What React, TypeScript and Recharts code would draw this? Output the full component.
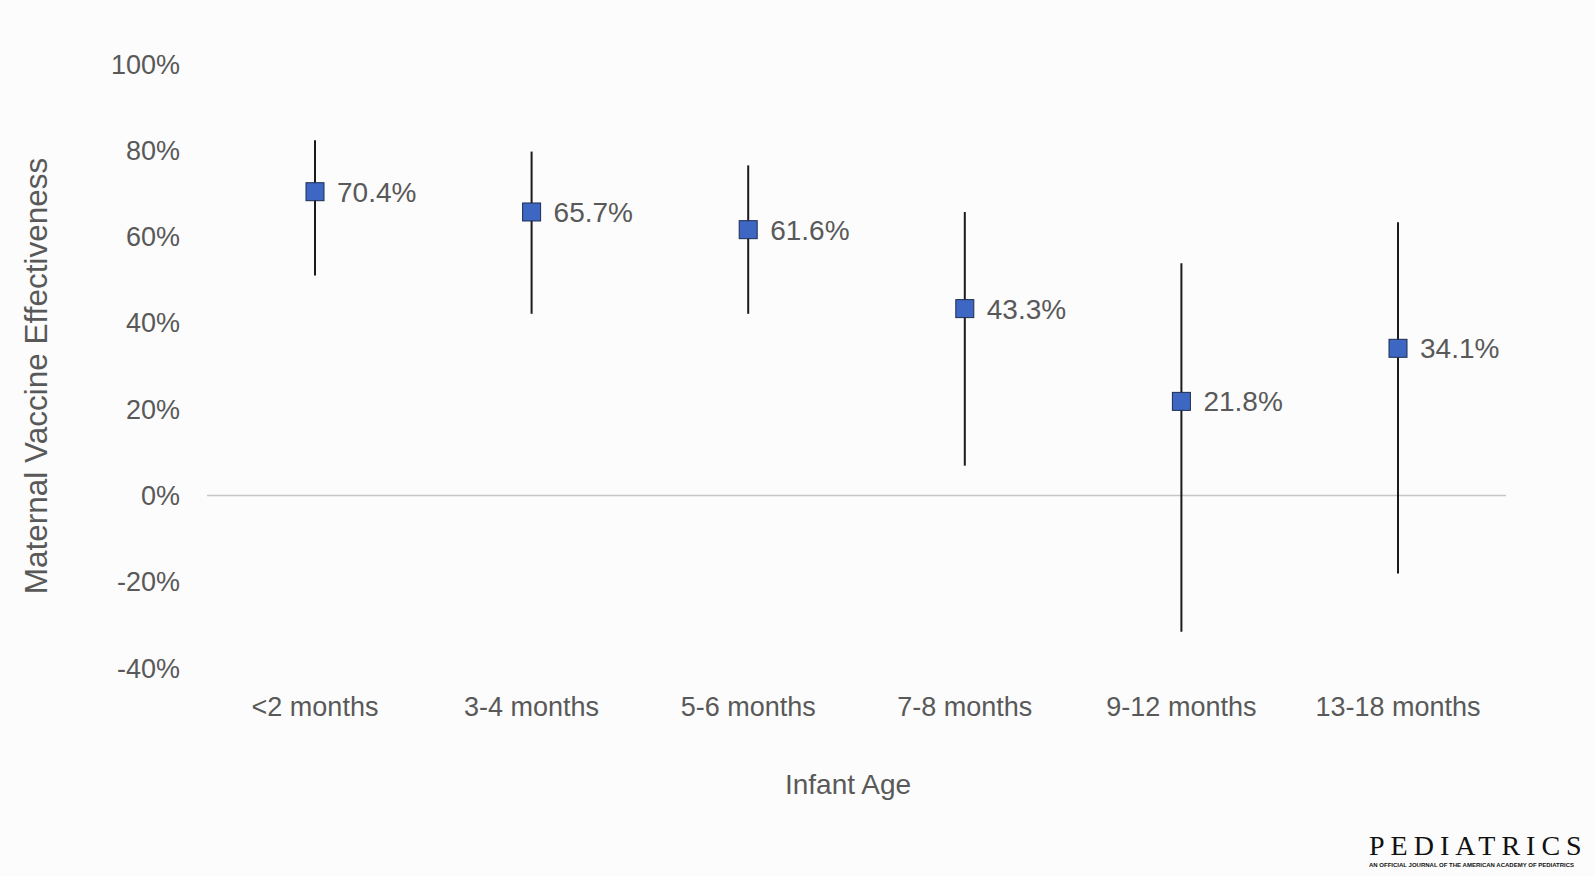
import React from 'react';
import { ComposedChart, Line, XAxis, YAxis, ErrorBar, LabelList, ReferenceLine } from 'recharts';

// values (percent)
const categories = ['<2 months', '3-4 months', '5-6 months', '7-8 months', '9-12 months', '13-18 months'];
const effectiveness = [70.4, 65.7, 61.6, 43.3, 21.8, 34.1];
const ciLower = [51.0, 42.1, 42.1, 6.9, -31.6, -18.1];
const ciUpper = [82.3, 79.7, 76.5, 65.7, 53.8, 63.3];
const yTicks = [-40, -20, 0, 20, 40, 60, 80, 100];

const FONT = '"Liberation Sans", Arial, Helvetica, sans-serif';
const TEXT_GREY = '#595959';

const data = categories.map((name, i) => ({
  name,
  ve: effectiveness[i],
  err: [effectiveness[i] - ciLower[i], ciUpper[i] - effectiveness[i]],
}));

// square marker drawn at the point the Line hands us
const SquareDot = (props: any) => {
  const { cx, cy, index } = props;
  if (cx == null || cy == null) return null;
  return (
    <rect
      key={`sq-${index}`}
      x={cx - 9}
      y={cy - 9}
      width={18}
      height={18}
      fill="#3D67C2"
      stroke="#1E2D52"
      strokeWidth={1}
    />
  );
};

export default function App() {
  return (
    <div style={{ position: 'absolute', left: 0, top: 0, width: 1594, height: 876, background: '#fcfcfc', overflow: 'hidden', fontFamily: FONT }}>
      <ComposedChart
        width={1594}
        height={876}
        data={data}
        margin={{ top: 64, right: 88, bottom: 68, left: 0 }}
      >
        <XAxis
          dataKey="name"
          type="category"
          interval={0}
          padding={{ left: 108, right: 108 }}
          axisLine={false}
          tickLine={false}
          tickSize={0}
          tickMargin={29}
          height={140}
          tick={{ fill: TEXT_GREY, fontSize: 27, fontFamily: FONT }}
        />
        <YAxis
          type="number"
          domain={[-40, 100]}
          ticks={yTicks}
          allowDataOverflow
          tickFormatter={(v: number) => `${v}%`}
          axisLine={false}
          tickLine={false}
          tickSize={0}
          tickMargin={27}
          width={207}
          tick={{ fill: TEXT_GREY, fontSize: 27, fontFamily: FONT }}
        />
        <ReferenceLine y={0} stroke="#c6c6c6" strokeWidth={1.5} />
        {/* markers + value labels */}
        <Line
          dataKey="ve"
          stroke="none"
          dot={SquareDot}
          activeDot={false}
          isAnimationActive={false}
        >
          <LabelList
            dataKey="ve"
            position="right"
            offset={22}
            formatter={(v: any) => `${v}%`}
            fill={TEXT_GREY}
            fontSize={28}
            fontFamily={FONT}
          />
        </Line>
        {/* confidence intervals drawn on top of the markers */}
        <Line
          dataKey="ve"
          stroke="none"
          dot={false}
          activeDot={false}
          isAnimationActive={false}
        >
          <ErrorBar dataKey="err" direction="y" width={0} stroke="#1b1b1b" strokeWidth={2} />
        </Line>
      </ComposedChart>

      <div style={{ position: 'absolute', left: 36, top: 376, transform: 'translate(-50%, -50%) rotate(-90deg)', whiteSpace: 'nowrap', fontSize: 31.5, color: TEXT_GREY }}>
        Maternal Vaccine Effectiveness
      </div>
      <div style={{ position: 'absolute', left: 848, top: 785, transform: 'translate(-50%, -50%)', whiteSpace: 'nowrap', fontSize: 28, color: TEXT_GREY }}>
        Infant Age
      </div>

      <div style={{ position: 'absolute', left: 1369, top: 832, whiteSpace: 'nowrap', color: '#111' }}>
        <div style={{ fontFamily: '"Liberation Serif", "DejaVu Serif", serif', fontSize: 28, letterSpacing: 6, lineHeight: '28px' }}>PEDIATRICS</div>
        <div style={{ fontFamily: FONT, fontWeight: 'bold', fontSize: 6, lineHeight: '8px', marginTop: 1 }}>
          AN OFFICIAL JOURNAL OF THE AMERICAN ACADEMY OF PEDIATRICS
        </div>
      </div>
    </div>
  );
}
